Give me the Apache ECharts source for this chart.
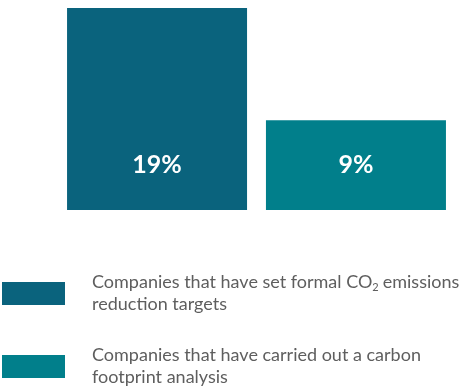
<!DOCTYPE html>
<html>
<head>
<meta charset="utf-8">
<script src="https://cdn.jsdelivr.net/npm/echarts@6/dist/echarts.min.js"></script>
<style>
html,body{margin:0;padding:0;background:#fff;}
#chart{width:468px;height:387px;}
</style>
</head>
<body>
<div id="chart"></div>
<script>
var seriesNames = [
  'Companies that have set formal CO2 emissions reduction targets',
  'Companies that have carried out a carbon footprint analysis'
];
var seriesValues = [19, 9];
var valueLabels = ['19%', '9%'];
var seriesColors = ['#0a637d', '#017f8b'];
var legendText = {};
legendText[seriesNames[0]] = '{t|Companies that have set formal CO}{s|2}{t|emissions}\n{t|reduction targets}';
legendText[seriesNames[1]] = '{t|Companies that have carried out a carbon}\n{t|footprint analysis}';

var chart = echarts.init(document.getElementById('chart'), null, {renderer: 'canvas'});
var series = seriesNames.map(function (name, i) {
  return {
    name: name,
    type: 'bar',
    data: [seriesValues[i]],
    barWidth: 180,
    barGap: '10.5%',
    itemStyle: {color: seriesColors[i]},
    label: {
      show: true,
      position: 'insideBottom',
      distance: 33,
      formatter: function () { return valueLabels[i]; },
      color: '#ffffff',
      fontFamily: 'Lato',
      fontWeight: 'bold',
      fontSize: 25
    },
    emphasis: {disabled: true}
  };
});

chart.setOption({
  animation: false,
  grid: {left: 67, right: 22, top: 8, bottom: 177},
  xAxis: {type: 'category', data: [''], show: false, boundaryGap: true},
  yAxis: {type: 'value', min: 1, max: 19, show: false},
  legend: {
    orient: 'vertical',
    left: 2,
    top: 272,
    padding: 0,
    itemWidth: 63,
    itemHeight: 23,
    itemGap: 33,
    icon: 'rect',
    selectedMode: false,
    data: seriesNames,
    formatter: function (name) { return legendText[name]; },
    textStyle: {
      padding: [0, 0, 0, 22],
      rich: {
        t: {fontFamily: 'Lato', fontSize: 18, color: '#5e5e5e', lineHeight: 22},
        s: {fontFamily: 'Lato', fontSize: 11, color: '#5e5e5e', lineHeight: 22, padding: [10, 4, 0, 0]}
      }
    }
  },
  series: series
});
</script>
</body>
</html>
